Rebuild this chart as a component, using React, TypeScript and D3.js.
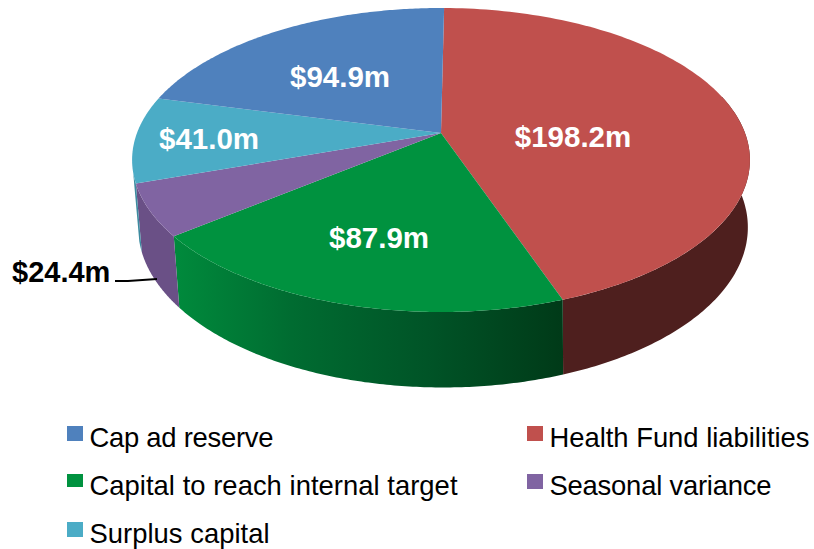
import React from "react";
import * as d3 from "d3";

const sliceNames = ["Health Fund liabilities", "Capital to reach internal target", "Seasonal variance", "Surplus capital", "Cap ad reserve"];
const sliceValues = [198.2, 87.9, 24.4, 41.0, 94.9];
const sliceLabels = ["$198.2m", "$87.9m", "$24.4m", "$41.0m", "$94.9m"];
const topColors = ["#c0504d", "#00923f", "#8064a2", "#4bacc6", "#4f81bd"];
const wallColors = ["#4e1f1e", "url(#greenWall)", "#6a5086", "#3d8ba0", "#3f6797"];
const legendOrder = [4, 0, 1, 2, 3];
const legendWidths = [184, 260, 368, 222, 180];

const W = 814, H = 549;
const K = -0.1776;
const ROT = 0.012;
const FONT = "'Liberation Sans', Arial, sans-serif";

const rimTop = (a: number): [number, number] => {
  const s = Math.sin(a), t = -Math.cos(a), d = 1 + K * t;
  return [441 + (304 * s) / d, 133 + (147.2 * t) / d];
};
const rimBottom = (a: number): [number, number] => {
  const s = Math.sin(a), t = -Math.cos(a), d = 1 + K * t;
  return [443 + (300 * s) / d, 199 + (155 * t) / d];
};
const line = d3.line();
const arcPoints = (fn: (a: number) => [number, number], a0: number, a1: number) =>
  d3.range(0, 121).map((i) => fn(a0 + ((a1 - a0) * i) / 120));

const arcs = d3.pie<number>().sort(null).startAngle(ROT).endAngle(2 * Math.PI + ROT)(sliceValues);
const APEX: [number, number] = [441, 133];

const WALL_MIN = (75 * Math.PI) / 180;
const WALL_MAX = (255 * Math.PI) / 180;

const labelPos: Record<string, [number, number]> = {
  "$198.2m": [573, 147],
  "$87.9m": [379, 248],
  "$41.0m": [209, 149],
  "$94.9m": [340, 87],
};

const legendPos: [number, number][] = [[67, 447], [527, 447], [67, 495], [527, 495], [67, 543]];

export default function App() {
  return (
    <svg width={W} height={H} style={{ position: "absolute", left: 0, top: 0, background: "#fff" }} fontFamily={FONT}>
      <defs>
        <linearGradient id="greenWall" gradientUnits="userSpaceOnUse" x1="175" y1="0" x2="563" y2="0">
          <stop offset="0" stopColor="#008a3c" />
          <stop offset="0.3" stopColor="#006c31" />
          <stop offset="0.65" stopColor="#005427" />
          <stop offset="1" stopColor="#003a18" />
        </linearGradient>
      </defs>
      {arcs.map((d, i) => {
        const a0 = Math.max(d.startAngle, WALL_MIN);
        const a1 = Math.min(d.endAngle, WALL_MAX);
        if (a1 <= a0) return null;
        const pts = [...arcPoints(rimTop, a0, a1), ...arcPoints(rimBottom, a0, a1).reverse()];
        return <path key={i} d={line(pts) + "Z"} fill={wallColors[i]} />;
      })}
      {arcs.map((d, i) => {
        const pts = [APEX, ...arcPoints(rimTop, d.startAngle, d.endAngle)];
        return <path key={i} d={line(pts) + "Z"} fill={topColors[i]} />;
      })}
      {sliceLabels.map((t) =>
        labelPos[t] ? (
          <text key={t} x={labelPos[t][0]} y={labelPos[t][1]} textAnchor="middle" fontSize={29.5} fontWeight="bold" fill="#fff">
            {t}
          </text>
        ) : null
      )}
      <text x={12} y={282} fontSize={29} fontWeight="bold" fill="#000">{sliceLabels[2]}</text>
      <path d="M115,281 L128,281 L157,279" fill="none" stroke="#000" strokeWidth={2} />
      {legendOrder.map((idx, i) => {
        const [x, y] = legendPos[i];
        return (
          <g key={idx}>
            <rect x={x} y={y - 21} width={16} height={idx === 1 ? 13 : 15} fill={topColors[idx]} />
            <text x={x + 22.5} y={y} fontSize={27.4} fill="#000" textLength={legendWidths[i]} lengthAdjust="spacing">{sliceNames[idx]}</text>
          </g>
        );
      })}
    </svg>
  );
}
